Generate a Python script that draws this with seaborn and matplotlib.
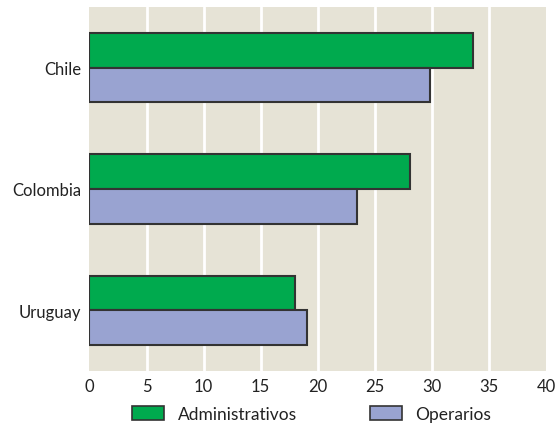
import matplotlib
matplotlib.use("Agg")
import matplotlib.pyplot as plt
from matplotlib.patches import Patch
import seaborn as sns
import pandas as pd

countries = ["Chile", "Colombia", "Uruguay"]
administrativos = [33.6, 28.1, 18.0]
operarios = [29.8, 23.4, 19.1]
series_names = ["Administrativos", "Operarios"]
x_ticks = [0, 5, 10, 15, 20, 25, 30, 35, 40]
colors = ["#00aa4e", "#99a3d1"]

df = pd.DataFrame({
    "pais": countries * 2,
    "valor": administrativos + operarios,
    "grupo": [series_names[0]] * len(countries) + [series_names[1]] * len(countries),
})

sns.set_style("white")
plt.rcParams["font.family"] = ["Lato", "DejaVu Sans"]

fig = plt.figure(figsize=(5.58, 4.27), dpi=100)
ax = fig.add_axes([89.5 / 558, 1 - 372 / 427, (546 - 89.5) / 558, (372 - 8) / 427])
ax.set_facecolor("#e6e3d6")

sns.barplot(
    data=df, y="pais", x="valor", hue="grupo", orient="h",
    palette=colors, saturation=1, width=0.57, dodge=True,
    edgecolor="#333333", linewidth=1.5, ax=ax, legend=False, zorder=3,
)

ax.set_xlim(0, 40)
ax.set_ylim(2.5, -0.5)
ax.set_xticks(x_ticks)
ax.set_xticklabels([str(t) for t in x_ticks])
for t in x_ticks[1:-1]:
    ax.axvline(t, color="white", lw=2, zorder=1)
for s in ax.spines.values():
    s.set_visible(False)
ax.tick_params(axis="both", length=0, labelsize=12, colors="#222222")
ax.tick_params(axis="x", pad=5)
ax.tick_params(axis="y", pad=6)
ax.set_xlabel("")
ax.set_ylabel("")

handles = [Patch(facecolor=c, edgecolor="#333333", linewidth=1.2) for c in colors]
fig.legend(
    handles, series_names, loc="center", bbox_to_anchor=(311.5 / 558, 1 - 415 / 427),
    ncol=2, frameon=False, fontsize=12.5, handlelength=1.84, handleheight=0.86,
    columnspacing=4.2, handletextpad=0.8, borderpad=0, borderaxespad=0,
    labelcolor="#222222",
)

fig.savefig("out.png", dpi=100, facecolor="white")
